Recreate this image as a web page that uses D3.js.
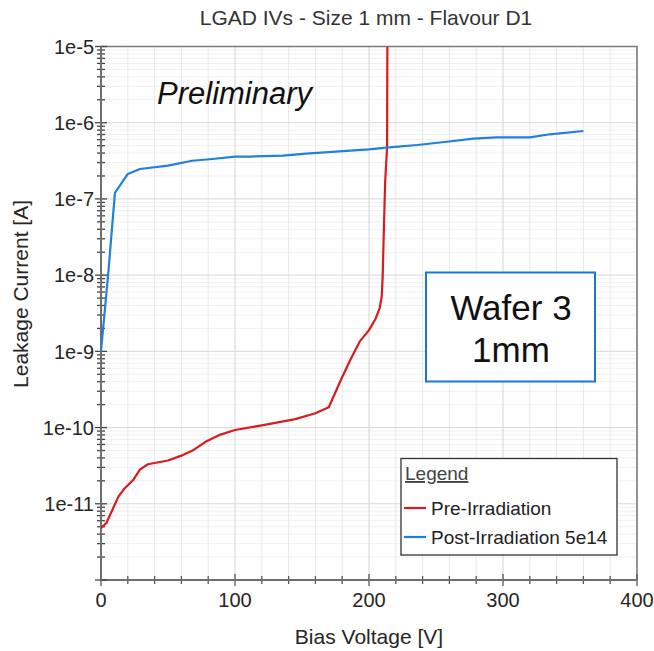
<!DOCTYPE html>
<html>
<head>
<meta charset="utf-8">
<script src="https://cdn.jsdelivr.net/npm/d3@7"></script>
<style>
	body { margin: 0; background: #fff; }
	svg { display: block; font-family: "Liberation Sans", Arial, sans-serif; }
</style>
</head>
<body>
<div id="chart"></div>
<script>
{ // start block scope

	// pre-irradiation curve
	const preV = [0, 4, 13, 17, 24, 29, 35, 50, 61, 68, 78, 88, 100, 120, 145, 160, 170, 179, 186, 193, 200, 205, 208, 209.5, 210.2, 210.7, 212, 213.5, 213.7];
	const preI = [4.8e-12, 5.6e-12, 1.24e-11, 1.55e-11, 2.05e-11, 2.8e-11, 3.3e-11, 3.7e-11, 4.35e-11, 4.95e-11, 6.5e-11, 7.95e-11, 9.3e-11, 1.07e-10, 1.29e-10, 1.54e-10, 1.85e-10, 4.2e-10, 7.7e-10, 1.34e-9, 1.9e-9, 2.7e-9, 3.7e-9, 5.2e-9, 9.5e-9, 2.1e-8, 1.6e-7, 4.7e-7, 1e-5];

	// post-irradiation curve
	const postV = [0, 5.5, 10.4, 20, 29, 50, 68, 83, 100, 111, 136, 153, 178, 200, 213, 236, 258, 278, 295, 320, 335, 360];
	const postI = [1e-9, 1.1e-8, 1.2e-7, 2.13e-7, 2.47e-7, 2.73e-7, 3.17e-7, 3.34e-7, 3.58e-7, 3.6e-7, 3.69e-7, 3.92e-7, 4.2e-7, 4.47e-7, 4.7e-7, 5.1e-7, 5.63e-7, 6.17e-7, 6.43e-7, 6.43e-7, 7.05e-7, 7.78e-7];

	const xTicks = [0, 100, 200, 300, 400];
	const yDecades = [1e-12, 1e-11, 1e-10, 1e-9, 1e-8, 1e-7, 1e-6, 1e-5];
	const yLabels = ["", "1e-11", "1e-10", "1e-9", "1e-8", "1e-7", "1e-6", "1e-5"];

	const seriesNames = ["Pre-Irradiation", "Post-Irradiation 5e14"];
	const seriesColors = ["#dc1a1e", "#1f80dd"];

	var width = 654,
		height = 651;
	var margin = { top: 46.5, right: 17, bottom: 71, left: 101 };

	var svg = d3
		.select("#chart")
		.append("svg")
		.attr("width", width)
		.attr("height", height);

	var x = d3
		.scaleLinear()
		.domain([0, 400])
		.range([margin.left, width - margin.right]);

	var y = d3
		.scaleLog()
		.domain([1e-12, 1e-5])
		.range([height - margin.bottom, margin.top]);

	// minor values: 2..9 inside each decade
	var yMinor = [];
	yDecades.slice(0, -1).forEach((d) => {
		for (let k = 2; k <= 9; k++) yMinor.push(d * k);
	});
	var xMinor = d3.range(0, 401, 20);

	// grid
	const grid = svg.append("g").attr("id", "grid");
	grid
		.selectAll("line.hmin")
		.data(yMinor)
		.join("line")
		.attr("class", "hmin")
		.attr("x1", x(0))
		.attr("x2", x(400))
		.attr("y1", (d) => y(d))
		.attr("y2", (d) => y(d))
		.style("stroke", "#f0f0f0");
	grid
		.selectAll("line.v")
		.data(xMinor)
		.join("line")
		.attr("class", "v")
		.attr("x1", (d) => x(d))
		.attr("x2", (d) => x(d))
		.attr("y1", y(1e-12))
		.attr("y2", y(1e-5))
		.style("stroke", (d) => (d % 100 === 0 ? "#d4d4d4" : "#e8e8e8"));
	grid
		.selectAll("line.hmaj")
		.data(yDecades)
		.join("line")
		.attr("class", "hmaj")
		.attr("x1", x(0))
		.attr("x2", x(400))
		.attr("y1", (d) => y(d))
		.attr("y2", (d) => y(d))
		.style("stroke", "#d8d8d8");

	// frame top / right
	svg
		.append("path")
		.attr("d", `M${x(0)},${y(1e-5)}H${x(400)}V${y(1e-12)}`)
		.attr("fill", "none")
		.style("stroke", "#7a7a7a")
		.style("stroke-width", 1.5);

	// x axis
	const xAxis = svg.append("g").attr("transform", `translate(0,${y(1e-12)})`);
	xAxis
		.call(d3.axisBottom(x).tickValues(xMinor).tickSize(0).tickFormat(""))
		.call((g) => g.select(".domain").remove());
	xAxis
		.selectAll("line.t")
		.data(xMinor)
		.join("line")
		.attr("class", "t")
		.attr("x1", (d) => x(d))
		.attr("x2", (d) => x(d))
		.attr("y1", (d) => (d % 100 === 0 ? -6 : -4))
		.attr("y2", (d) => (d % 100 === 0 ? 6 : 4))
		.style("stroke", "#555")
		.style("stroke-width", 1.3);
	xAxis
		.append("line")
		.attr("x1", x(0))
		.attr("x2", x(400))
		.style("stroke", "#6e6e6e")
		.style("stroke-width", 2);
	xAxis
		.selectAll("text.lab")
		.data(xTicks)
		.join("text")
		.attr("class", "lab")
		.attr("x", (d) => x(d))
		.attr("y", 27)
		.attr("text-anchor", "middle")
		.style("font-size", "20px")
		.style("fill", "#262626")
		.text((d) => d);

	// y axis
	const yAxis = svg.append("g").attr("transform", `translate(${x(0)},0)`);
	yAxis
		.selectAll("line.tmin")
		.data(yMinor)
		.join("line")
		.attr("class", "tmin")
		.attr("x1", -4)
		.attr("x2", 4)
		.attr("y1", (d) => y(d))
		.attr("y2", (d) => y(d))
		.style("stroke", "#444")
		.style("stroke-width", 1.3);
	yAxis
		.selectAll("line.tmaj")
		.data(yDecades)
		.join("line")
		.attr("class", "tmaj")
		.attr("x1", -6)
		.attr("x2", 6)
		.attr("y1", (d) => y(d))
		.attr("y2", (d) => y(d))
		.style("stroke", "#444")
		.style("stroke-width", 1.3);
	yAxis
		.append("line")
		.attr("y1", y(1e-12))
		.attr("y2", y(1e-5))
		.style("stroke", "#6e6e6e")
		.style("stroke-width", 2);
	yAxis
		.selectAll("text.lab")
		.data(yDecades)
		.join("text")
		.attr("class", "lab")
		.attr("x", -7)
		.attr("y", (d) => y(d))
		.attr("dy", "0.36em")
		.attr("text-anchor", "end")
		.style("font-size", "20px")
		.style("fill", "#262626")
		.text((d, i) => yLabels[i]);

	// curves
	var line = d3
		.line()
		.x((d) => x(d[0]))
		.y((d) => y(d[1]));

	svg
		.append("defs")
		.append("clipPath")
		.attr("id", "clip")
		.append("rect")
		.attr("x", x(0))
		.attr("y", y(1e-5))
		.attr("width", x(400) - x(0))
		.attr("height", y(1e-12) - y(1e-5));

	const curves = [d3.zip(preV, preI), d3.zip(postV, postI)];
	svg
		.append("g")
		.attr("clip-path", "url(#clip)")
		.selectAll("path")
		.data(curves)
		.join("path")
		.attr("d", line)
		.attr("fill", "none")
		.style("stroke", (d, i) => seriesColors[i])
		.style("stroke-width", 2.2)
		.style("stroke-linejoin", "round");

	// titles
	svg
		.append("text")
		.attr("x", 366)
		.attr("y", 25)
		.attr("text-anchor", "middle")
		.style("font-size", "21px")
		.style("fill", "#333")
		.text("LGAD IVs - Size 1 mm - Flavour D1");

	svg
		.append("text")
		.attr("x", (x(0) + x(400)) / 2)
		.attr("y", 644)
		.attr("text-anchor", "middle")
		.style("font-size", "21px")
		.style("fill", "#262626")
		.text("Bias Voltage [V]");

	svg
		.append("text")
		.attr("transform", `translate(28,294) rotate(-90)`)
		.attr("text-anchor", "middle")
		.style("font-size", "21px")
		.style("fill", "#262626")
		.text("Leakage Current [A]");

	svg
		.append("text")
		.attr("x", 157)
		.attr("y", 104)
		.style("font-size", "31px")
		.style("font-style", "italic")
		.style("fill", "#111")
		.text("Preliminary");

	// wafer box
	const wafer = svg.append("g");
	wafer
		.append("rect")
		.attr("x", 426)
		.attr("y", 272.5)
		.attr("width", 169)
		.attr("height", 109)
		.attr("fill", "#fff")
		.style("stroke", "#1a78d2")
		.style("stroke-width", 2);
	wafer
		.selectAll("text")
		.data(["Wafer 3", "1mm"])
		.join("text")
		.attr("x", 511)
		.attr("y", (d, i) => 320 + i * 42)
		.attr("text-anchor", "middle")
		.style("font-size", "35px")
		.style("fill", "#111")
		.text((d) => d);

	// legend
	const legend = svg.append("g").attr("id", "legend");
	legend
		.append("rect")
		.attr("x", 401)
		.attr("y", 458.5)
		.attr("width", 216)
		.attr("height", 96.5)
		.attr("fill", "#fff")
		.style("stroke", "#333")
		.style("stroke-width", 1.3);
	legend
		.append("text")
		.attr("x", 405)
		.attr("y", 480)
		.style("font-size", "19px")
		.style("fill", "#444")
		.style("text-decoration", "underline")
		.text("Legend");
	const items = legend
		.selectAll("g.item")
		.data(seriesNames)
		.join("g")
		.attr("class", "item")
		.attr("transform", (d, i) => `translate(404,${508 + i * 29})`);
	items
		.append("line")
		.attr("x1", 0)
		.attr("x2", 22)
		.style("stroke", (d, i) => seriesColors[i])
		.style("stroke-width", 2.2);
	items
		.append("text")
		.attr("x", 27)
		.attr("dy", "0.36em")
		.style("font-size", "19px")
		.style("fill", "#222")
		.text((d) => d);

} // end block scope
</script>
</body>
</html>
